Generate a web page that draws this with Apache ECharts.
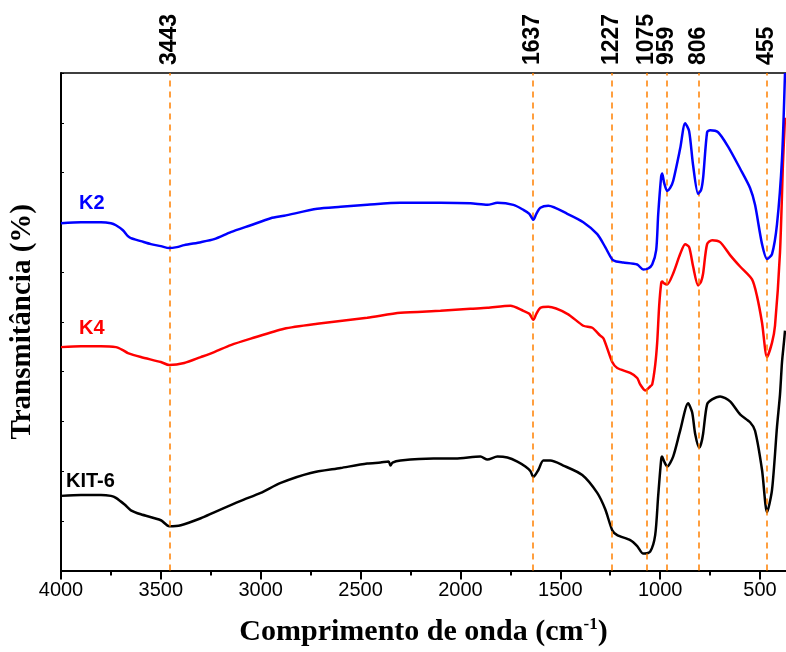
<!DOCTYPE html>
<html><head><meta charset="utf-8">
<script src="https://cdn.jsdelivr.net/npm/echarts@6/dist/echarts.min.js"></script>
<style>html,body{margin:0;padding:0;background:#fff}#c{width:786px;height:652px}</style>
</head><body><div id="c"></div>
<script>
// Wavenumbers (cm-1) and transmittance (arbitrary, offset) for each sample
const k2Wn = [4000,3900,3800,3750,3725,3690,3665,3650,3600,3550,3500,3458,3420,3383,3300,3233,3150,3050,2950,2883,2717,2600,2467,2300,2100,1950,1865,1815,1735,1685,1655,1635,1620,1600,1560,1465,1385,1315,1275,1240,1220,1185,1115,1085,1060,1040,1020,1010,995,990,980,965,950,935,900,875,855,835,810,795,785,765,750,710,660,600,550,525,490,465,440,415,390,375];
const k2T  = [69.8,70.0,70.0,69.8,69.4,68.4,67.2,66.8,66.2,65.6,65.2,64.8,65.0,65.4,66.0,66.6,68.0,69.4,70.8,71.3,72.7,73.1,73.5,73.9,73.9,73.8,73.5,73.9,73.5,72.5,71.7,70.5,71.7,72.9,73.3,71.7,70.0,67.6,65.0,62.5,62.1,61.9,61.5,60.5,60.7,61.5,64.4,71.5,79.2,79.8,77.9,76.3,76.9,78.3,84.8,89.9,88.3,81.4,75.7,76.5,78.9,88.1,88.5,88.1,85.2,80.8,76.9,73.5,65.6,62.6,63.6,69.6,82.8,100];

const k4Wn = [4000,3900,3800,3725,3690,3665,3600,3500,3458,3383,3300,3233,3150,3050,2883,2717,2467,2300,2100,1950,1865,1750,1685,1655,1635,1620,1600,1560,1465,1385,1340,1300,1283,1240,1215,1150,1115,1100,1075,1050,1040,1025,1015,1005,995,990,980,965,935,900,875,855,835,810,795,785,765,740,700,650,600,540,515,490,465,440,425,400,385,375];
const k4T  = [44.9,45.1,45.1,44.9,44.3,43.7,42.9,41.9,41.3,41.7,42.9,43.9,45.3,46.6,48.6,49.6,50.8,51.8,52.2,52.6,52.8,53.2,52.2,51.6,50.4,51.6,52.8,53.0,51.6,49.2,48.8,47.2,46.6,41.9,40.7,39.7,38.7,37.4,36.2,37.0,37.4,41.3,45.8,53.2,57.7,58.1,57.7,57.5,59.7,63.6,65.6,65.0,61.1,57.3,58.1,59.7,65.6,66.4,66.0,63.4,61.1,58.5,55.1,49.8,42.9,45.8,49.2,64.0,82.0,91.0];

const kit6Wn = [4000,3900,3800,3750,3725,3680,3650,3600,3500,3458,3400,3300,3233,3100,3000,2900,2750,2600,2467,2400,2360,2350,2340,2300,2135,2025,1900,1865,1815,1765,1715,1675,1650,1635,1610,1585,1550,1485,1390,1315,1275,1240,1215,1150,1115,1085,1050,1025,1010,995,990,980,965,935,900,860,840,825,805,795,785,765,740,700,650,600,550,525,490,465,440,415,400,390,380,375];
const kit6T  = [15.0,15.2,15.2,15.0,14.6,13.2,12.1,11.3,10.1,8.9,9.1,10.5,11.7,14.0,15.6,17.6,19.6,20.6,21.5,21.7,21.9,21.1,21.7,22.1,22.5,22.5,22.9,22.3,22.9,22.7,21.9,20.9,20.0,18.8,20.2,22.1,22.1,21.1,19.2,15.6,12.3,8.1,7.1,6.1,4.9,3.4,3.8,7.1,15.0,22.3,22.9,21.9,20.9,22.9,28.1,33.6,31.8,27.5,24.7,25.5,27.5,33.4,34.4,35.0,34.0,31.4,29.8,28.1,20.2,11.7,16.2,28.9,35.4,41.9,46.0,48.2];

const seriesNames = ['K2','K4','KIT-6'];
const bandPositions = [3458,1638,1242,1067,967,805,467];
const bandLabels = ['3443','1637','1227','1075','959','806','455'];
const majorTicks = [4000,3500,3000,2500,2000,1500,1000,500];
const minorTicks = [3750,3250,2750,2250,1750,1250,750];

const zip = (a,b) => a.map((v,i)=>[v,b[i]]);
const colors = ['#0000ff','#ff0000','#000000'];
const datasets = [zip(k2Wn,k2T), zip(k4Wn,k4T), zip(kit6Wn,kit6T)];

const chart = echarts.init(document.getElementById('c'), null, {renderer:'canvas'});
const xBase = {type:'value', min:370, max:4000, inverse:true, splitLine:{show:false}};
const option = {
  animation:false,
  backgroundColor:'#fff',
  grid:{left:60, right:0, top:73, bottom:73},
  xAxis:[
    Object.assign({}, xBase, {
      position:'bottom',
      axisLine:{show:true, onZero:false, lineStyle:{color:'#000', width:2}},
      axisTick:{show:true, customValues:majorTicks, length:9, lineStyle:{color:'#000', width:2}},
      axisLabel:{show:true, customValues:majorTicks, fontSize:20, color:'#000', fontFamily:'Liberation Sans', margin:10,
        formatter:function(v){return String(v);}},
      name:'Comprimento de onda (cm{sup|-1})',
      nameLocation:'middle', nameGap:46,
      nameTextStyle:{fontFamily:'Liberation Serif', fontWeight:'bold', fontSize:30, color:'#000',
        rich:{sup:{fontFamily:'Liberation Serif', fontWeight:'bold', fontSize:17, color:'#000', padding:[0,0,14,0]}}}
    }),
    Object.assign({}, xBase, {
      position:'bottom',
      axisLine:{show:false},
      axisTick:{show:true, customValues:minorTicks, length:5, lineStyle:{color:'#000', width:2}},
      axisLabel:{show:false}
    }),
    Object.assign({}, xBase, {
      position:'top',
      axisLine:{show:true, onZero:false, lineStyle:{color:'#000', width:1.5}},
      axisTick:{show:false},
      axisLabel:{show:true, customValues:bandPositions, rotate:-90, margin:8, fontSize:23, fontWeight:'bold', color:'#000', fontFamily:'Liberation Sans',
        formatter:function(v){const i=bandPositions.indexOf(v); return i>=0?bandLabels[i]:'';}}
    })
  ],
  yAxis:{
    type:'value', min:0, max:100, interval:10,
    axisLine:{show:true, lineStyle:{color:'#000', width:2}},
    axisTick:{show:true, inside:true, length:3, lineStyle:{color:'#000', width:1}},
    axisLabel:{show:false}, splitLine:{show:false},
    name:'Transmitância (%)', nameLocation:'middle', nameGap:24, nameRotate:90,
    nameTextStyle:{fontFamily:'Liberation Serif', fontWeight:'bold', fontSize:29, color:'#000'}
  },
  series: datasets.map((d,i)=>({
    name:seriesNames[i], type:'line', data:d, xAxisIndex:0, showSymbol:false, smooth:0.25,
    lineStyle:{color:colors[i], width:2.5}, itemStyle:{color:colors[i]}, z: 3 + (2 - i),
    markLine: i===0 ? {
      silent:true, symbol:['none','none'], label:{show:false},
      lineStyle:{type:[6,5], color:'#ff8000', width:1.5},
      data: bandPositions.map(v=>({xAxis:v}))
    } : undefined
  })),
  graphic:[
    {type:'text', left:79, top:193, style:{text:seriesNames[0], fill:'#0000ff', font:'bold 20px "Liberation Sans"'}},
    {type:'text', left:79, top:318, style:{text:seriesNames[1], fill:'#ff0000', font:'bold 20px "Liberation Sans"'}},
    {type:'text', left:66, top:471, style:{text:seriesNames[2], fill:'#000000', font:'bold 20px "Liberation Sans"'}}
  ]
};
chart.setOption(option);
</script>
</body></html>
